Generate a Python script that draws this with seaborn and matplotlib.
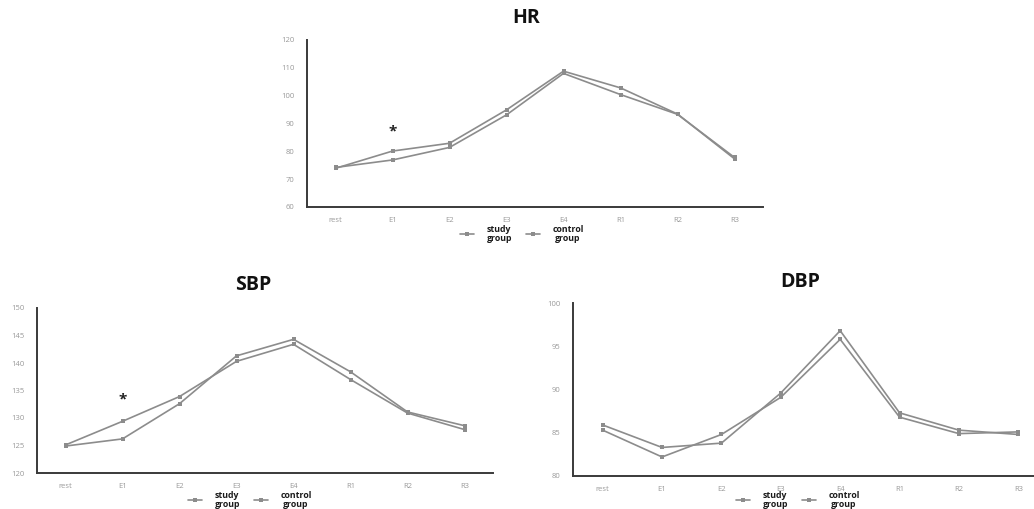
import matplotlib
matplotlib.use("Agg")
import matplotlib.pyplot as plt
import seaborn as sns
import pandas as pd

stages = ["rest", "E1", "E2", "E3", "E4", "R1", "R2", "R3"]
groups = ["study", "control"]
legend_labels = ["study\ngroup", "control\ngroup"]

hr_study = [73.9, 80.1, 82.9, 94.9, 108.8, 102.8, 93.4, 77.3]
hr_control = [74.2, 76.9, 81.4, 93.1, 108.0, 100.4, 93.3, 77.8]

sbp_study = [125.1, 129.4, 133.9, 140.3, 143.4, 137.0, 130.9, 127.9]
sbp_control = [124.9, 126.2, 132.6, 141.3, 144.3, 138.4, 131.1, 128.6]

dbp_study = [85.9, 83.3, 83.8, 89.6, 96.8, 87.3, 85.3, 84.8]
dbp_control = [85.3, 82.2, 84.8, 89.1, 95.8, 86.8, 84.9, 85.1]

hr_ticks = [60, 70, 80, 90, 100, 110, 120]
sbp_ticks = [120, 125, 130, 135, 140, 145, 150]
dbp_ticks = [80, 85, 90, 95, 100]

sns.set_theme(style="white")
plt.rcParams["font.family"] = ["Open Sans", "DejaVu Sans"]

W, H = 1034, 509
fig = plt.figure(figsize=(W / 100, H / 100), dpi=100)


def px_axes(l, r, t, b):
    return fig.add_axes([l / W, 1 - b / H, (r - l) / W, (b - t) / H])


def frame(study, control):
    rows = []
    for g, vals in zip(groups, [study, control]):
        for s, v in zip(stages, vals):
            rows.append({"stage": s, "group": g, "value": v})
    return pd.DataFrame(rows)


def panel(ax, study, control, ticks, title, title_xy, legend_xy, star=None):
    df = frame(study, control)
    sns.lineplot(data=df, x="stage", y="value", hue="group", hue_order=groups,
                 palette=["#8c8c8c", "#8c8c8c"], marker="s", markersize=2.5,
                 markeredgewidth=0, linewidth=1.2, ax=ax, sort=False)
    ax.set_xlim(-0.5, 7.5)
    ax.set_ylim(ticks[0], ticks[-1])
    ax.set_yticks(ticks)
    ax.set_xlabel("")
    ax.set_ylabel("")
    for sp in ["top", "right"]:
        ax.spines[sp].set_visible(False)
    for sp in ["left", "bottom"]:
        ax.spines[sp].set_color("#3a3a3a")
        ax.spines[sp].set_linewidth(1.4)
    ax.tick_params(axis="y", length=3, width=0.8, color="#3a3a3a",
                   labelsize=5.5, labelcolor="#999999", pad=6)
    ax.tick_params(axis="x", length=0, labelsize=5.5, labelcolor="#999999", pad=7)
    ax.set_facecolor("none")
    handles, _ = ax.get_legend_handles_labels()
    ax.get_legend().remove()
    leg = fig.legend(handles, legend_labels, loc="center",
                     bbox_to_anchor=(legend_xy[0] / W, 1 - legend_xy[1] / H),
                     ncol=2, frameon=False, handlelength=1.6,
                     columnspacing=1.6, handletextpad=1.4, borderpad=0.1,
                     prop={"weight": "bold", "size": 6.3})
    for t in leg.get_texts():
        t.set_multialignment("center")
        t.set_linespacing(0.95)
        t.set_color("#1a1a1a")
    fig.text(title_xy[0] / W, 1 - title_xy[1] / H, title, ha="center",
             va="center", fontsize=14, fontweight="bold", color="#111111")
    if star is not None:
        ax.text(1, star, "*", ha="center", va="center", fontsize=11,
                color="#222222", fontweight="bold")


ax_hr = px_axes(307, 763, 40, 207)
panel(ax_hr, hr_study, hr_control, hr_ticks, "HR", (526, 18), (522, 234), star=87.3)

ax_sbp = px_axes(37, 493, 308, 473)
panel(ax_sbp, sbp_study, sbp_control, sbp_ticks, "SBP", (253, 285), (250, 500), star=133.4)

ax_dbp = px_axes(573, 1048, 303, 476)
panel(ax_dbp, dbp_study, dbp_control, dbp_ticks, "DBP", (800, 282), (798, 500))

fig.savefig("out.png", dpi=100, facecolor="white")
